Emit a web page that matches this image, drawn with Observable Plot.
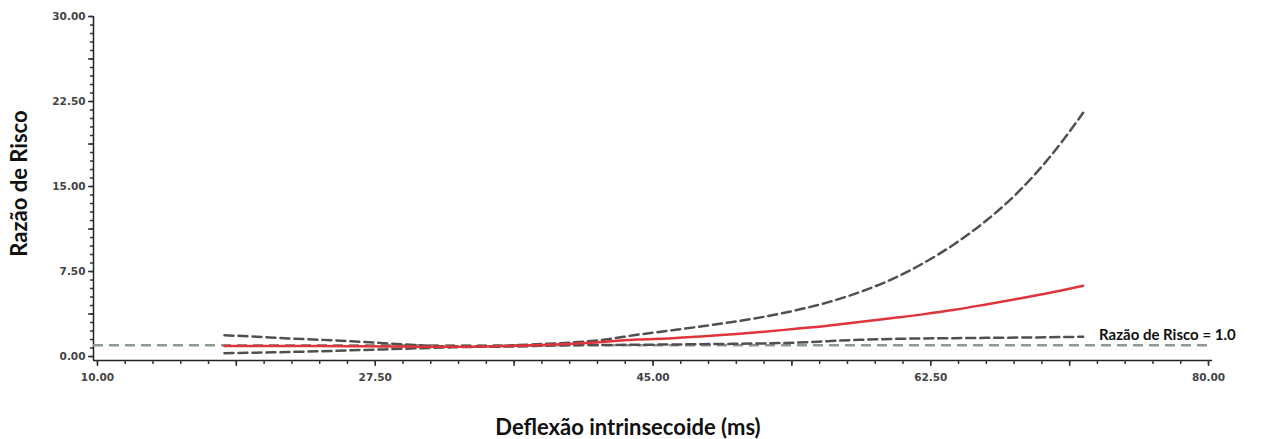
<!DOCTYPE html>
<html><head><meta charset="utf-8">
<script src="https://cdn.jsdelivr.net/npm/d3@7"></script>
<script src="https://cdn.jsdelivr.net/npm/@observablehq/plot@0.6"></script>
<style>body{margin:0;background:#fff} svg{display:block}</style>
</head><body><div id="chart"></div>
<script>
// Data
const deflexao   = [18, 20, 22, 24, 26, 28, 30, 32, 34, 36, 38, 40, 42, 44, 46, 48, 50, 52, 54, 56, 58, 60, 62, 64, 66, 68, 70, 72.1];
const razaoRisco = [0.92, 0.93, 0.94, 0.93, 0.91, 0.89, 0.87, 0.86, 0.88, 0.93, 1.02, 1.13, 1.30, 1.50, 1.60, 1.76, 1.96, 2.18, 2.45, 2.72, 3.05, 3.38, 3.72, 4.12, 4.60, 5.10, 5.62, 6.25];
const icSuperior = [1.88, 1.75, 1.60, 1.48, 1.35, 1.18, 1.02, 0.90, 0.90, 0.98, 1.10, 1.25, 1.50, 1.92, 2.28, 2.65, 3.05, 3.51, 4.08, 4.78, 5.67, 6.79, 8.21, 9.93, 12.00, 14.50, 17.60, 21.50];
const icInferior = [0.30, 0.34, 0.40, 0.47, 0.55, 0.63, 0.72, 0.80, 0.86, 0.88, 0.95, 1.00, 1.02, 1.04, 1.06, 1.09, 1.12, 1.16, 1.22, 1.35, 1.48, 1.55, 1.60, 1.62, 1.65, 1.67, 1.70, 1.75];
const referencia = 1.0;
const xTicks = [10, 27.5, 45, 62.5, 80];
const yTicks = [0, 7.5, 15, 22.5, 30];
const refLabel = "Razão de Risco = 1.0";
const xTitle = "Deflexão intrinsecoide (ms)";
const yTitle = "Razão de Risco";

const rows = deflexao.map((x, i) => ({x, rr: razaoRisco[i], sup: icSuperior[i], inf: icInferior[i]}));
const xDom = [9.75, 80.25], yDom = [-0.35, 30];
const xMinor = d3.range(10, 80.01, 1.75);
const xMid = d3.range(18.75, 80, 17.5);
const yMinor = d3.range(0, 30.01, 0.75);
const yMid = d3.range(3.75, 30, 7.5);
const fmt = d => d.toFixed(2);
const font = "Lato, 'Open Sans', sans-serif";
const tickFont = "'DejaVu Sans', sans-serif";

const chart = Plot.plot({
  width: 1263, height: 439,
  marginLeft: 93, marginRight: 51, marginTop: 16, marginBottom: 79,
  style: {fontFamily: font, background: "#fff"},
  x: {domain: xDom, label: null},
  y: {domain: yDom, label: null},
  marks: [
    Plot.ruleX([xDom[0]], {stroke: "#222", strokeWidth: 1.5}),
    Plot.ruleY([yDom[0]], {stroke: "#222", strokeWidth: 1.5}),
    Plot.axisX({ticks: xMinor, tickSize: 4, tickFormat: () => "", stroke: "#333", strokeWidth: 1.5, label: null}),
    Plot.axisX({ticks: xMid, tickSize: 6, tickFormat: () => "", stroke: "#333", strokeWidth: 1.5, label: null}),
    Plot.axisX({ticks: xTicks, tickSize: 6, tickPadding: 7, tickFormat: fmt, fontSize: 10.5, fontFamily: tickFont, fontWeight: "bold", fill: "#444", stroke: "#333", strokeWidth: 1.5, label: null}),
    Plot.axisY({ticks: yMinor, tickSize: 3, tickFormat: () => "", stroke: "#333", strokeWidth: 1.5, label: null}),
    Plot.axisY({ticks: yMid, tickSize: 5, tickFormat: () => "", stroke: "#333", strokeWidth: 1.5, label: null}),
    Plot.axisY({ticks: yTicks, tickSize: 5, tickPadding: 3, tickFormat: fmt, fontSize: 10.5, fontFamily: tickFont, fontWeight: "bold", fill: "#444", stroke: "#333", strokeWidth: 1.5, label: null}),
    Plot.ruleY([referencia], {x1: xDom[0], x2: 80, stroke: "#8d9a8d", strokeWidth: 2.5, strokeDasharray: "10,6"}),
    Plot.line(rows, {x: "x", y: "inf", stroke: "#505050", strokeWidth: 2.5, strokeDasharray: "9,5", curve: "monotone-x"}),
    Plot.line(rows, {x: "x", y: "sup", stroke: "#505050", strokeWidth: 2.5, strokeDasharray: "9,5", curve: "monotone-x"}),
    Plot.line(rows, {x: "x", y: "rr", stroke: "#e0343c", strokeWidth: 2.5, curve: "monotone-x"}),
    Plot.text([refLabel], {x: 73.1, y: referencia, dy: -10, textAnchor: "start", fontSize: 15, fontWeight: "bold", fill: "#111"}),
    Plot.text([xTitle], {frameAnchor: "bottom", textAnchor: "middle", dx: -25, dy: 74, fontSize: 22, fontWeight: "bold", fill: "#111"}),
    Plot.text([yTitle], {frameAnchor: "left", textAnchor: "middle", rotate: -90, dx: -74, dy: -5, fontSize: 22, fontWeight: "bold", fill: "#111"})
  ]
});
document.getElementById("chart").append(chart);
</script>
</body></html>
